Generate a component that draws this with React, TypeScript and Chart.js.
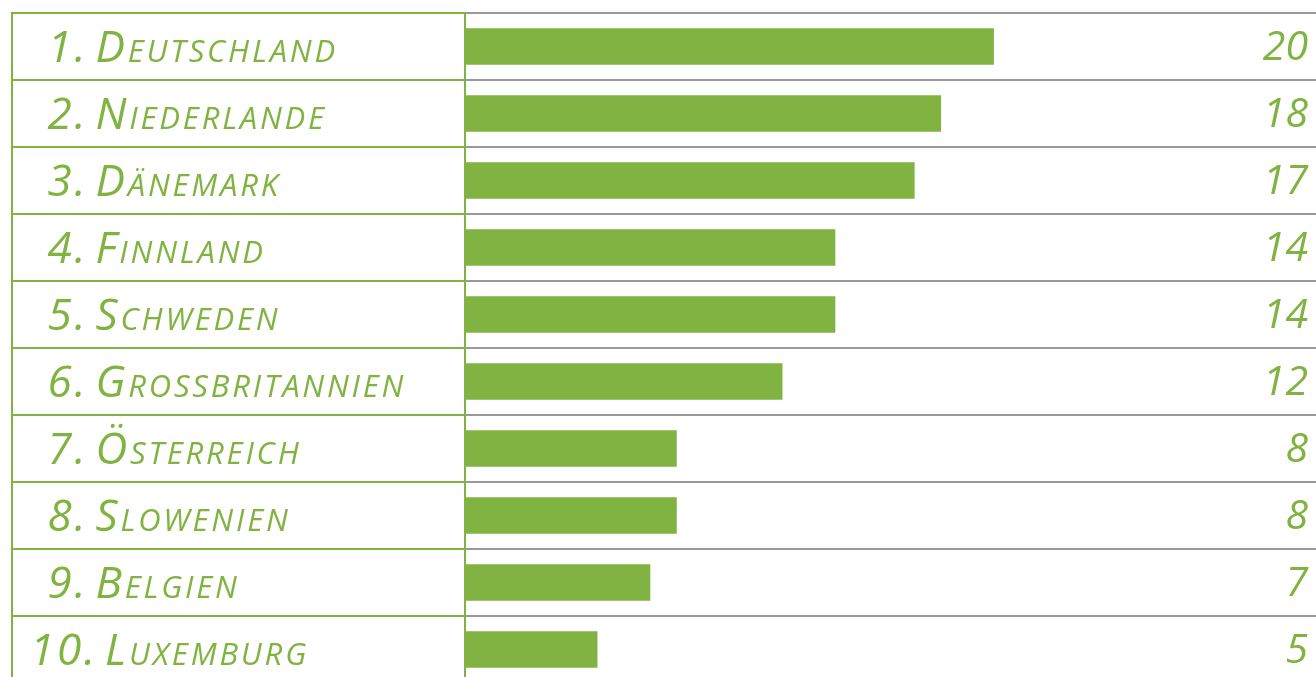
import React, { useEffect, useRef } from "react";
import { Chart, registerables } from "chart.js";

Chart.register(...registerables);

const categories = [
  "\u20041.\u200ADeutschland",
  "\u20042.\u200ANiederlande",
  "\u20043.\u200ADänemark",
  "\u20044.\u200AFinnland",
  "\u20045.\u200ASchweden",
  "\u20046.\u200AGrossbritannien",
  "\u20047.\u200AÖsterreich",
  "\u20048.\u200ASlowenien",
  "\u20049.\u200ABelgien",
  "10.\u200ALuxemburg",
];
const values = [20, 18, 17, 14, 14, 12, 8, 8, 7, 5];

const GREEN = "#80b341";
const GRAY = "#999999";
const FAMILY = "'Open Sans', 'Noto Sans', sans-serif";

export default function App() {
  const ref = useRef<HTMLCanvasElement>(null);

  useEffect(() => {
    if (!ref.current) return;

    const spacing = {
      id: "spacing",
      beforeDraw(chart: any) {
        chart.ctx.letterSpacing = "2.8px";
      },
    };

    const leftBorder = {
      id: "leftBorder",
      afterDraw(chart: any) {
        const { ctx, chartArea } = chart;
        ctx.save();
        ctx.strokeStyle = GREEN;
        ctx.lineWidth = 2;
        ctx.beginPath();
        ctx.moveTo(12, chartArea.top - 1);
        ctx.lineTo(12, chartArea.bottom + 1);
        ctx.stroke();
        ctx.restore();
      },
    };

    const valueLabels = {
      id: "valueLabels",
      afterDatasetsDraw(chart: any) {
        const { ctx, chartArea } = chart;
        const meta = chart.getDatasetMeta(0);
        ctx.save();
        ctx.letterSpacing = "0px";
        ctx.fillStyle = GREEN;
        ctx.font = `italic 41px ${FAMILY}`;
        ctx.textAlign = "right";
        ctx.textBaseline = "middle";
        meta.data.forEach((bar: any, i: number) => {
          const v = chart.data.datasets[0].data[i];
          ctx.fillText(String(v), chartArea.right - 8, bar.y + 2);
        });
        ctx.restore();
      },
    };

    const chart = new Chart(ref.current, {
      type: "bar",
      data: {
        labels: categories,
        datasets: [
          {
            data: values,
            backgroundColor: GREEN,
            barThickness: 36,
          },
        ],
      },
      options: {
        indexAxis: "y",
        animation: false,
        responsive: false,
        layout: { padding: { left: 30, top: 13, right: 0, bottom: 7 } },
        plugins: {
          legend: { display: false },
          tooltip: { enabled: false },
        },
        scales: {
          x: { display: false, min: 0, max: 32.2 },
          y: {
            grid: {
              color: GRAY,
              lineWidth: 2,
              tickColor: GREEN,
              tickLength: 453,
              offset: true,
            },
            border: { color: GREEN, width: 2 },
            ticks: {
              crossAlign: "far",
              color: GREEN,
              padding: 0,
              autoSkip: false,
              labelOffset: 3,
              font: {
                family: FAMILY,
                size: 44,
                style: "italic",
                weight: "small-caps" as any,
                lineHeight: 0.25,
              },
            },
            afterFit: (axis: any) => {
              axis.width = 435;
            },
          },
        },
      } as any,
      plugins: [spacing, leftBorder, valueLabels],
    });

    return () => chart.destroy();
  }, []);

  return (
    <div
      style={{
        position: "fixed",
        left: 0,
        top: 0,
        width: 1316,
        height: 677,
        overflow: "hidden",
        background: "#ffffff",
      }}
    >
      <canvas
        ref={ref}
        width={1316}
        height={690}
        style={{ display: "block", width: 1316, height: 690 }}
      />
    </div>
  );
}
